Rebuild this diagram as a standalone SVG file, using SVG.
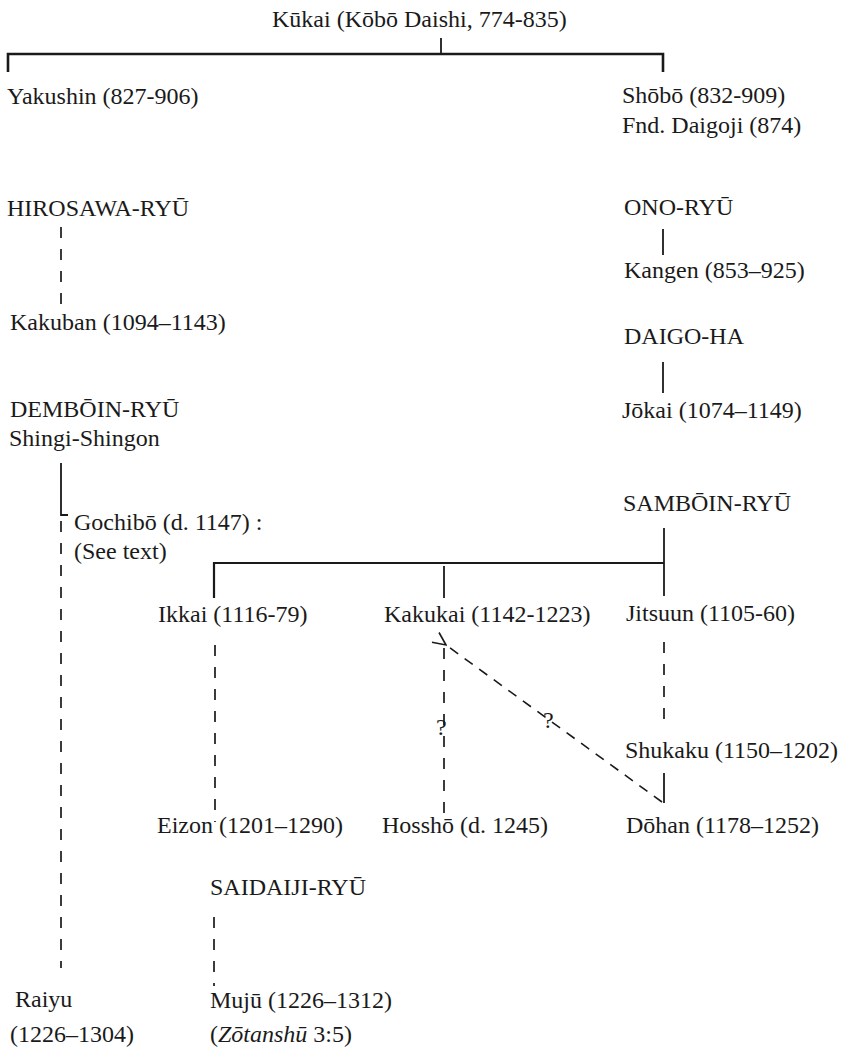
<svg xmlns="http://www.w3.org/2000/svg" width="845" height="1054" viewBox="0 0 845 1054">
<defs>
<style>
text{font-family:"Liberation Serif","Times New Roman",serif;font-size:24px;fill:#1a1a1a;}
.s{stroke:#1a1a1a;stroke-width:1.8;fill:none;}
.b{stroke:#1a1a1a;stroke-width:2.6;fill:none;}
.d{stroke:#1a1a1a;stroke-width:1.7;fill:none;stroke-dasharray:11 11;}
.dd{stroke:#1a1a1a;stroke-width:1.6;fill:none;stroke-dasharray:10 8;}
</style>
<marker id="ah" viewBox="0 0 16 16" refX="1" refY="8" markerWidth="16" markerHeight="16" markerUnits="userSpaceOnUse" orient="auto">
<path d="M14,2 L1,8 L14,14" fill="none" stroke="#1a1a1a" stroke-width="1.6"/>
</marker>
</defs>
<rect width="845" height="1054" fill="#ffffff"/>
<g id="connectors">
<line class="s" x1="441" y1="38" x2="441" y2="54"/>
<polyline class="b" points="8,72 8,54 663,54 663,72"/>
<line class="d" x1="61" y1="227" x2="61" y2="306"/>
<polyline class="s" points="61,463 61,515 68,515"/>
<line class="d" x1="61" y1="521" x2="61" y2="968"/>
<line class="s" x1="663" y1="229" x2="663" y2="255"/>
<line class="s" x1="663" y1="362" x2="663" y2="393"/>
<line class="s" x1="664" y1="528" x2="664" y2="596"/>
<polyline class="b" points="214,598 214,563 664,563" style="stroke-width:2.2"/>
<line class="s" x1="444" y1="566" x2="444" y2="598"/>
<line class="d" x1="215" y1="645" x2="215" y2="822"/>
<line class="d" x1="444" y1="648" x2="444" y2="822"/>
<line class="d" x1="664" y1="642" x2="664" y2="722"/>
<line class="s" x1="664" y1="773" x2="664" y2="803"/>
<line class="dd" x1="662" y1="802" x2="446" y2="645" marker-end="url(#ah)"/>
<line class="d" x1="214" y1="917" x2="214" y2="986"/>
</g>
<g id="kukai"><text x="272" y="27">Kūkai (Kōbō Daishi, 774-835)</text></g>
<g id="yakushin"><text x="7" y="104">Yakushin (827-906)</text></g>
<g id="shobo"><text x="622" y="103">Shōbō (832-909)</text><text x="622" y="133">Fnd. Daigoji (874)</text></g>
<g id="hirosawa"><text x="7" y="216">HIROSAWA-RYŪ</text></g>
<g id="kakuban"><text x="10" y="330">Kakuban (1094–1143)</text></g>
<g id="demboin"><text x="10" y="417">DEMBŌIN-RYŪ</text><text x="9" y="446">Shingi-Shingon</text></g>
<g id="gochibo"><text x="74" y="530">Gochibō (d. 1147) :</text><text x="74" y="559">(See text)</text></g>
<g id="raiyu"><text x="15" y="1007">Raiyu</text><text x="10" y="1042">(1226–1304)</text></g>
<g id="ono"><text x="624" y="215">ONO-RYŪ</text></g>
<g id="kangen"><text x="624" y="278">Kangen (853–925)</text></g>
<g id="daigo"><text x="624" y="344">DAIGO-HA</text></g>
<g id="jokai"><text x="622" y="418">Jōkai (1074–1149)</text></g>
<g id="samboin"><text x="623" y="511">SAMBŌIN-RYŪ</text></g>
<g id="ikkai"><text x="158" y="622">Ikkai (1116-79)</text></g>
<g id="kakukai"><text x="384" y="622">Kakukai (1142-1223)</text></g>
<g id="jitsuun"><text x="626" y="621">Jitsuun (1105-60)</text></g>
<g id="q1"><text x="436" y="735">?</text></g>
<g id="q2"><text x="543" y="728">?</text></g>
<g id="shukaku"><text x="625" y="758">Shukaku (1150–1202)</text></g>
<g id="eizon"><text x="157" y="833">Eizon (1201–1290)</text></g>
<g id="hossho"><text x="382" y="833">Hosshō (d. 1245)</text></g>
<g id="dohan"><text x="626" y="833">Dōhan (1178–1252)</text></g>
<g id="saidaiji"><text x="210" y="895">SAIDAIJI-RYŪ</text></g>
<g id="muju"><text x="210" y="1008">Mujū (1226–1312)</text><text x="210" y="1042">(<tspan font-style="italic">Zōtanshū</tspan> 3:5)</text></g>
</svg>
